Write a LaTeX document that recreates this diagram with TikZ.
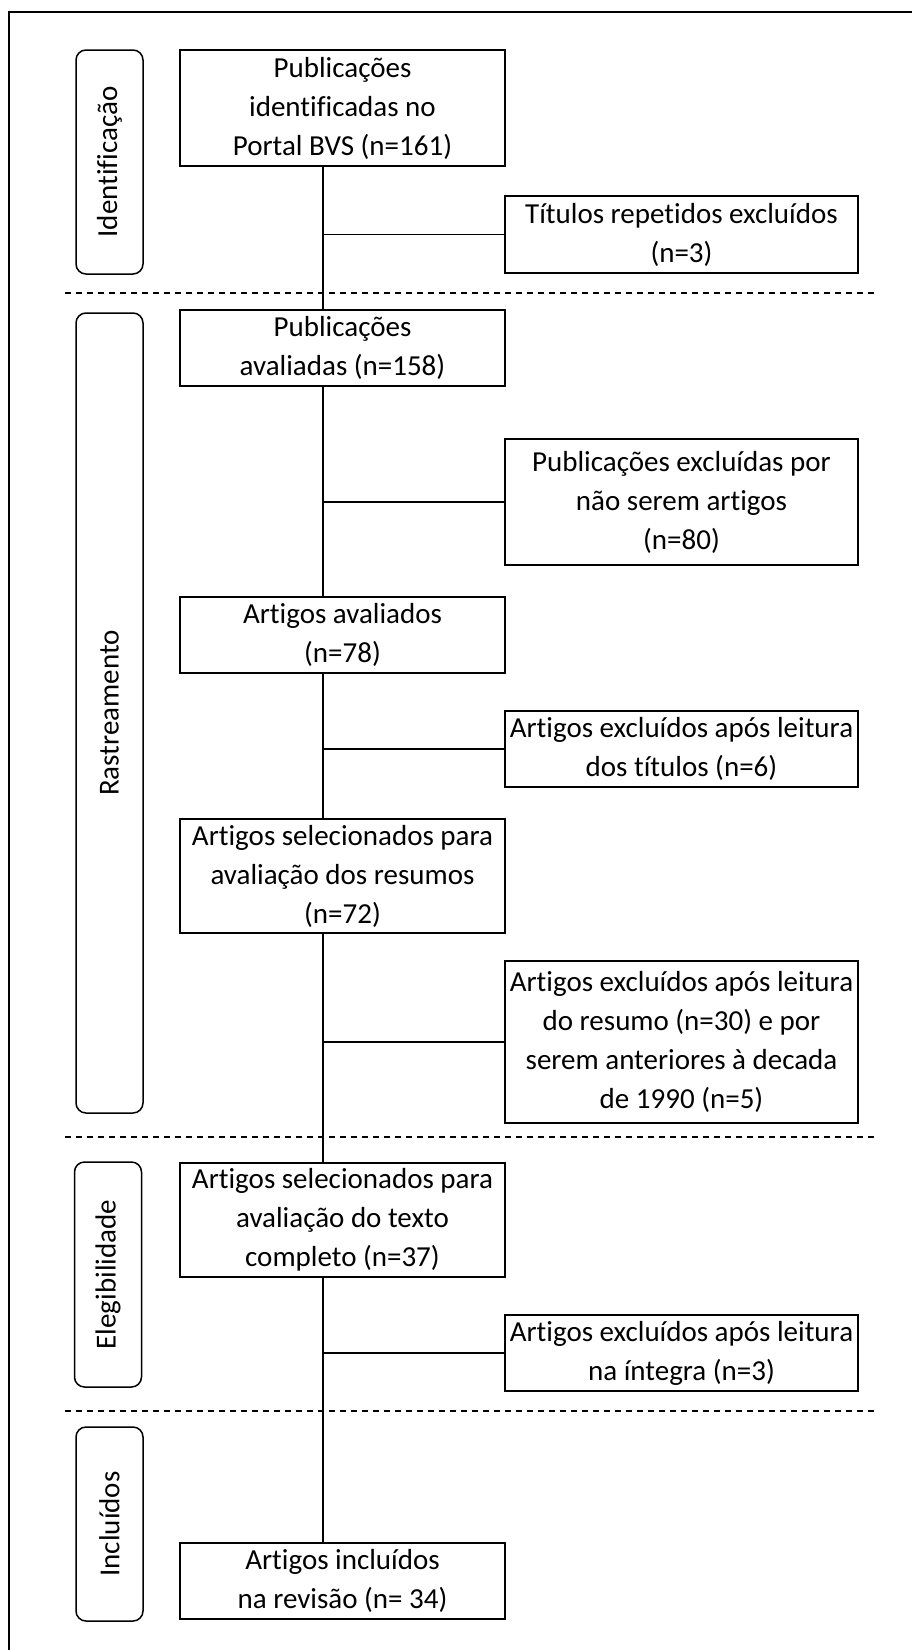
\documentclass[tikz,border=0pt]{standalone}
\usepackage{fontspec}
\setmainfont{Carlito}[Ligatures=NoCommon]

\begin{document}
\begin{tikzpicture}
      [x = 1pt, y = -1pt,
      font = \fontsize{29}{39}\selectfont,
      box/.style= {
         draw,
         line width = 2pt,
         align = center,
         inner sep = 0pt,
         minimum width = 325pt
      },
      exbox/.style= {
         box,
         minimum width = 353pt
      },
      stage/.style= {
         draw,
         line width = 1.5pt,
         rounded corners = 10pt,
         rotate = 90,
         inner sep = 0pt,
         minimum height = 67pt
      },
      link/.style = {line width = 1.5pt},
      cut/.style = {line width = 1.5pt, dash pattern = on 6pt off 5pt}]

      \useasboundingbox (0, 0) rectangle (912, 1650);
      \draw[line width = 2] (9, 1650) -- (9, 12) -- (912, 12);

      \node[stage, minimum width = 224pt] (ident) at (109.5, 162) {Identificação};
      \node[stage, minimum width = 800pt] (rastr) at (109.5, 713) {Rastreamento};
      \node[stage, minimum width = 225pt] (eleg) at (108, 1274.5) {Elegibilidade};
      \node[stage, minimum width = 194pt] (incl) at (109.5, 1524) {Incluídos};

      \draw[cut] (65, 293) -- (877, 293);
      \draw[cut] (65, 1137) -- (877, 1137);
      \draw[cut] (65, 1411) -- (877, 1411);

      \node[box, minimum height = 116pt] (pubid) at (342.5, 108)
         {Publicações\\identificadas no\\Portal BVS (n=161)};
      \node[box, minimum height = 76pt] (pubav) at (342.5, 348)
         {Publicações\\avaliadas (n=158)};
      \node[box, minimum height = 76pt] (artav) at (342.5, 635)
         {Artigos avaliados\\(n=78)};
      \node[box, minimum height = 114pt] (artres) at (342.5, 876)
         {Artigos selecionados para\\avaliação dos resumos\\(n=72)};
      \node[box, minimum height = 114pt] (arttex) at (342.5, 1220)
         {Artigos selecionados para\\avaliação do texto\\completo (n=37)};
      \node[box, minimum height = 76pt] (artinc) at (342.5, 1581)
         {Artigos incluídos\\na revisão (n= 34)};

      \node[exbox, minimum height = 77pt] (exrep) at (681.5, 234.5)
         {Títulos repetidos excluídos\\(n=3)};
      \node[exbox, minimum height = 126pt] (exart) at (681.5, 502)
         {Publicações excluídas por\\não serem artigos\\(n=80)};
      \node[exbox, minimum height = 76pt] (extit) at (681.5, 749)
         {Artigos excluídos após leitura\\dos títulos (n=6)};
      \node[exbox, minimum height = 162pt] (exres) at (681.5, 1042)
         {Artigos excluídos após leitura\\do resumo (n=30) e por\\serem anteriores à decada\\de 1990 (n=5)};
      \node[exbox, minimum height = 76pt] (exint) at (681.5, 1353)
         {Artigos excluídos após leitura\\na íntegra (n=3)};

      \coordinate (spine) at (323, 0);
      \draw[link] (pubid.south -| spine) -- (pubav.north -| spine);
      \draw[link] (pubav.south -| spine) -- (artav.north -| spine);
      \draw[link] (artav.south -| spine) -- (artres.north -| spine);
      \draw[link] (artres.south -| spine) -- (arttex.north -| spine);
      \draw[link] (arttex.south -| spine) -- (artinc.north -| spine);

      \draw[link] (exrep.west) -- (exrep.west -| spine);
      \draw[link] (exart.west) -- (exart.west -| spine);
      \draw[link] (extit.west) -- (extit.west -| spine);
      \draw[link] (exres.west) -- (exres.west -| spine);
      \draw[link] (exint.west) -- (exint.west -| spine);

   \end{tikzpicture}
\end{document}
